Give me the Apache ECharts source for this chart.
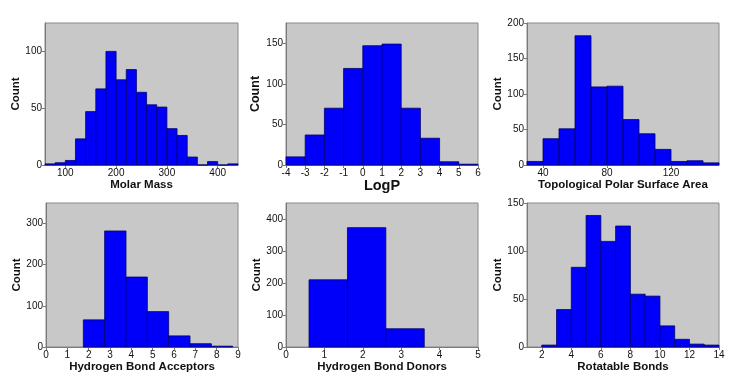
<!DOCTYPE html>
<html>
<head>
<meta charset="utf-8">
<script src="https://cdn.jsdelivr.net/npm/echarts@6/dist/echarts.min.js"></script>
<style>
  html, body { margin: 0; padding: 0; background: #fff; }
  #chart { width: 736px; height: 376px; }
</style>
</head>
<body>
<div id="chart"></div>
<script>
// bin lower / upper edges and counts
const molarLo = [60, 80, 100, 120, 140, 160, 180, 200, 220, 240, 260, 280, 300, 320, 340, 360, 380, 400, 420];
const molarHi = [80, 100, 120, 140, 160, 180, 200, 220, 240, 260, 280, 300, 320, 340, 360, 380, 400, 420, 440];
const molarCounts = [1, 2, 4, 23, 47, 67, 100, 75, 84, 64, 53, 51, 32, 26, 7, 0, 3, 0, 1];

const logpLo = [-4, -3, -2, -1, 0, 1, 2, 3, 4, 5];
const logpHi = [-3, -2, -1, 0, 1, 2, 3, 4, 5, 6];
const logpCounts = [10, 37, 70, 119, 147, 149, 70, 33, 4, 1];

const tpsaLo = [30, 40, 50, 60, 70, 80, 90, 100, 110, 120, 130, 140];
const tpsaHi = [40, 50, 60, 70, 80, 90, 100, 110, 120, 130, 140, 150];
const tpsaCounts = [5, 37, 51, 182, 110, 111, 64, 44, 22, 5, 6, 3];

const hbaLo = [1.75, 2.75, 3.75, 4.75, 5.75, 6.75, 7.75];
const hbaHi = [2.75, 3.75, 4.75, 5.75, 6.75, 7.75, 8.75];
const hbaCounts = [66, 282, 170, 86, 27, 8, 2];

const hbdLo = [0.6, 1.6, 2.6];
const hbdHi = [1.6, 2.6, 3.6];
const hbdCounts = [210, 373, 57];

const rotLo = [2, 3, 4, 5, 6, 7, 8, 9, 10, 11, 12, 13];
const rotHi = [3, 4, 5, 6, 7, 8, 9, 10, 11, 12, 13, 14];
const rotCounts = [2, 39, 83, 137, 110, 126, 55, 53, 22, 8, 3, 2];

// tick labels
const molarTicks = [100, 200, 300, 400];
const molarY = [0, 50, 100];
const logpTicks = [-4, -3, -2, -1, 0, 1, 2, 3, 4, 5, 6];
const logpY = [0, 50, 100, 150];
const tpsaTicks = [40, 80, 120];
const tpsaY = [0, 50, 100, 150, 200];
const hbaTicks = [0, 1, 2, 3, 4, 5, 6, 7, 8, 9];
const hbaY = [0, 100, 200, 300];
const hbdTicks = [0, 1, 2, 3, 4, 5];
const hbdY = [0, 100, 200, 300, 400];
const rotTicks = [2, 4, 6, 8, 10, 12, 14];
const rotY = [0, 50, 100, 150];

const panels = [
  { name: 'Molar Mass', lo: molarLo, hi: molarHi, counts: molarCounts, xt: molarTicks, yt: molarY,
    xmin: 60, xmax: 440, ymax: 125, left: 45, top: 23, width: 193, height: 142, nameSize: 11.5, nameGap: 13, yGap: 21, ySize: 11.5 },
  { name: 'LogP', lo: logpLo, hi: logpHi, counts: logpCounts, xt: logpTicks, yt: logpY,
    xmin: -4, xmax: 6, ymax: 175, left: 286, top: 23, width: 192, height: 142, nameSize: 14.5, nameGap: 11, yGap: 20, ySize: 12.5 },
  { name: 'Topological Polar Surface Area', lo: tpsaLo, hi: tpsaHi, counts: tpsaCounts, xt: tpsaTicks, yt: tpsaY,
    xmin: 30, xmax: 150, ymax: 200, left: 527, top: 23, width: 192, height: 142, nameSize: 11.5, nameGap: 13, yGap: 21, ySize: 11.5 },
  { name: 'Hydrogen Bond Acceptors', lo: hbaLo, hi: hbaHi, counts: hbaCounts, xt: hbaTicks, yt: hbaY,
    xmin: 0, xmax: 9, ymax: 350, left: 46, top: 203, width: 192, height: 144, nameSize: 11.5, nameGap: 9, yGap: 22, ySize: 11.5 },
  { name: 'Hydrogen Bond Donors', lo: hbdLo, hi: hbdHi, counts: hbdCounts, xt: hbdTicks, yt: hbdY,
    xmin: 0, xmax: 5, ymax: 450, left: 286, top: 203, width: 192, height: 144, nameSize: 11.5, nameGap: 9, yGap: 19, ySize: 11.5 },
  { name: 'Rotatable Bonds', lo: rotLo, hi: rotHi, counts: rotCounts, xt: rotTicks, yt: rotY,
    xmin: 1, xmax: 14, ymax: 150, left: 527, top: 203, width: 192, height: 144, nameSize: 11.5, nameGap: 9, yGap: 21, ySize: 11.5 }
];

const chart = echarts.init(document.getElementById('chart'), null, { renderer: 'canvas' });

const FONT = '"Liberation Sans", Arial, sans-serif';

const grid = [], xAxis = [], yAxis = [], series = [];
panels.forEach((p, i) => {
  grid.push({
    left: p.left, top: p.top, width: p.width, height: p.height,
    show: true, backgroundColor: '#c8c8c8', borderColor: '#8a8a8a', borderWidth: 1
  });
  xAxis.push({
    type: 'value', gridIndex: i, min: p.xmin, max: p.xmax,
    name: p.name, nameLocation: 'middle', nameGap: p.nameGap,
    nameTextStyle: { fontFamily: FONT, fontWeight: 'bold', fontSize: p.nameSize, color: '#111' },
    axisLine: { show: true, onZero: false, lineStyle: { color: '#7a7a7a' } },
    axisTick: { show: true, length: 3, lineStyle: { color: '#7a7a7a' }, customValues: p.xt },
    axisLabel: { fontFamily: FONT, fontSize: 10, color: '#111', margin: 3, customValues: p.xt },
    splitLine: { show: false }
  });
  yAxis.push({
    type: 'value', gridIndex: i, min: 0, max: p.ymax,
    name: 'Count', nameLocation: 'middle', nameGap: p.yGap, nameRotate: 90,
    nameTextStyle: { fontFamily: FONT, fontWeight: 'bold', fontSize: p.ySize, color: '#111' },
    axisLine: { show: true, onZero: false, lineStyle: { color: '#7a7a7a' } },
    axisTick: { show: true, length: 3, lineStyle: { color: '#7a7a7a' }, customValues: p.yt },
    axisLabel: { fontFamily: FONT, fontSize: 10, color: '#111', margin: 3, customValues: p.yt },
    splitLine: { show: false }
  });
  series.push({
    type: 'custom', xAxisIndex: i, yAxisIndex: i,
    data: p.counts.map((c, k) => [p.lo[k], p.hi[k], c]),
    encode: { x: [0, 1], y: 2 },
    renderItem: (params, api) => {
      const a = api.coord([api.value(0), api.value(2)]);
      const b = api.coord([api.value(1), 0]);
      return {
        type: 'rect',
        shape: { x: a[0], y: a[1], width: b[0] - a[0], height: b[1] - a[1] },
        style: { fill: '#0000fa', stroke: '#00006e', lineWidth: 0.8 }
      };
    }
  });
});

chart.setOption({
  backgroundColor: '#ffffff',
  animation: false,
  grid, xAxis, yAxis, series
});

window.addEventListener('resize', () => chart.resize());
</script>
</body>
</html>
